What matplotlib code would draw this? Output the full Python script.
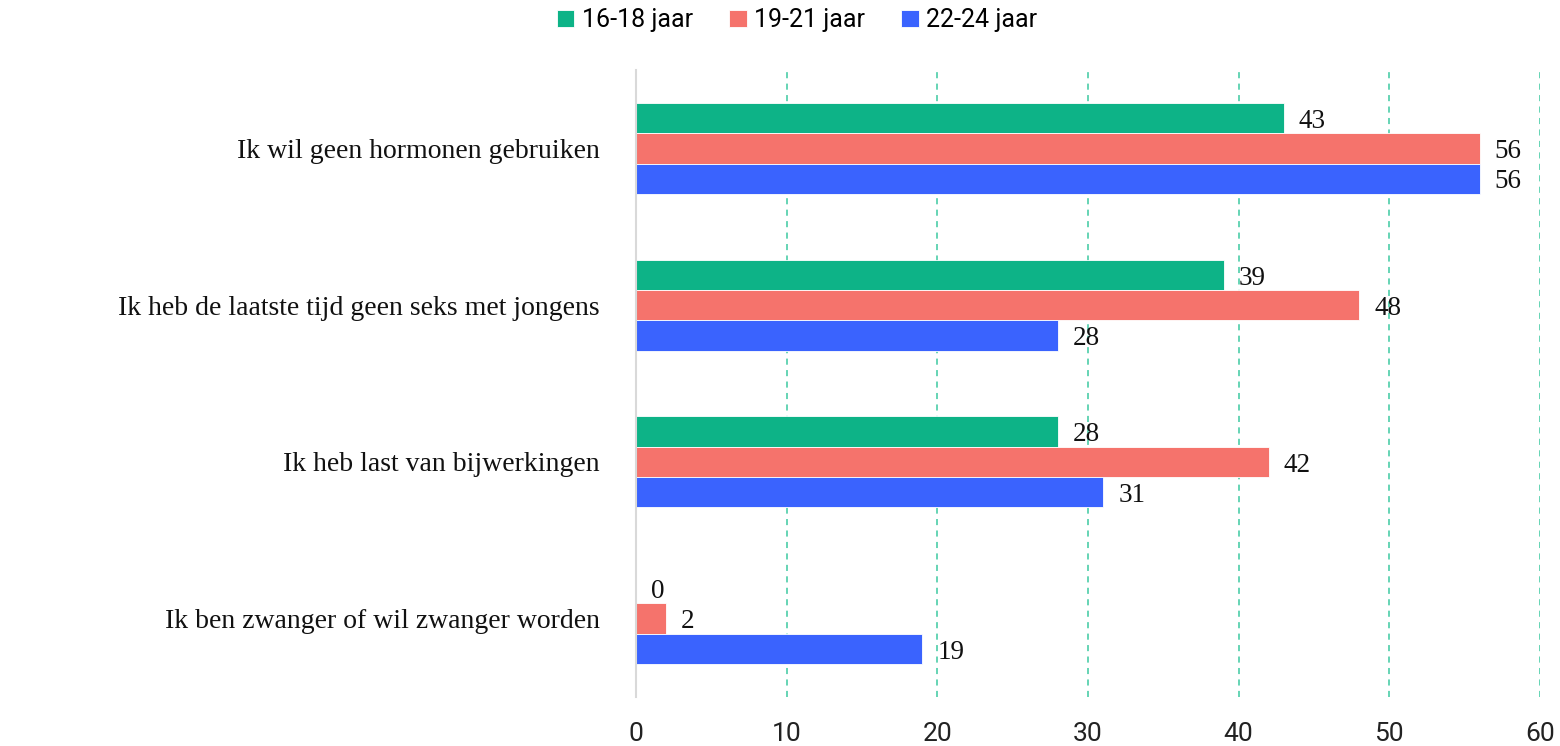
import matplotlib
matplotlib.use("Agg")
import matplotlib.pyplot as plt
import numpy as np

categories = [
    "Ik wil geen hormonen gebruiken",
    "Ik heb de laatste tijd geen seks met jongens",
    "Ik heb last van bijwerkingen",
    "Ik ben zwanger of wil zwanger worden",
]
series_names = ["16-18 jaar", "19-21 jaar", "22-24 jaar"]
vals_16_18 = [43, 39, 28, 0]
vals_19_21 = [56, 48, 42, 2]
vals_22_24 = [56, 28, 31, 19]
colors = ["#0db387", "#f5736c", "#3a63fe"]
xticks = [0, 10, 20, 30, 40, 50, 60]

fig = plt.figure(figsize=(15.6, 7.46), dpi=100)
ax = fig.add_axes([636/1560, 1-697/746, (1540-636)/1560, (697-70)/746])

y = np.arange(len(categories))
h = 0.193
all_vals = [vals_16_18, vals_19_21, vals_22_24]
for i, (vals, c, name) in enumerate(zip(all_vals, colors, series_names)):
    pos = y + (i - 1) * h
    ax.barh(pos, vals, height=h, color=c, label=name, zorder=2,
            edgecolor="white", linewidth=0.6)
    for p, v in zip(pos, vals):
        ax.text(v + 1.0, p + 0.02, str(v), va="center", ha="left",
                fontsize=19.5, family="Liberation Serif", color="#111111")

ax.set_xlim(0, 60)
ax.set_ylim(3.5, -0.5)
ax.set_xticks(xticks)
ax.set_xticklabels([str(t) for t in xticks], family="Roboto", fontsize=19, color="#222222")
ax.set_yticks(y)
ax.set_yticklabels(categories, family="Liberation Serif", fontsize=20, color="#111111")
ax.tick_params(axis="y", length=0, pad=26)
ax.tick_params(axis="x", length=0, pad=18)

ax.xaxis.grid(True, linestyle=(0, (4, 3.5)), color="#3cc9a0", linewidth=1.1, zorder=1)
ax.set_axisbelow(True)
for s in ["top", "right", "bottom"]:
    ax.spines[s].set_visible(False)
ax.spines["left"].set_color("#d9d9d9")
ax.spines["left"].set_linewidth(1.5)
ax.spines["left"].set_zorder(3)

leg = fig.legend(loc="upper center", bbox_to_anchor=(0.511, 1.019), ncol=3, frameon=False,
                 prop={"family": "Roboto", "size": 18}, handlelength=0.7, handleheight=0.7,
                 handletextpad=0.3, columnspacing=1.45)

fig.savefig("out.png", dpi=100, facecolor="white")
